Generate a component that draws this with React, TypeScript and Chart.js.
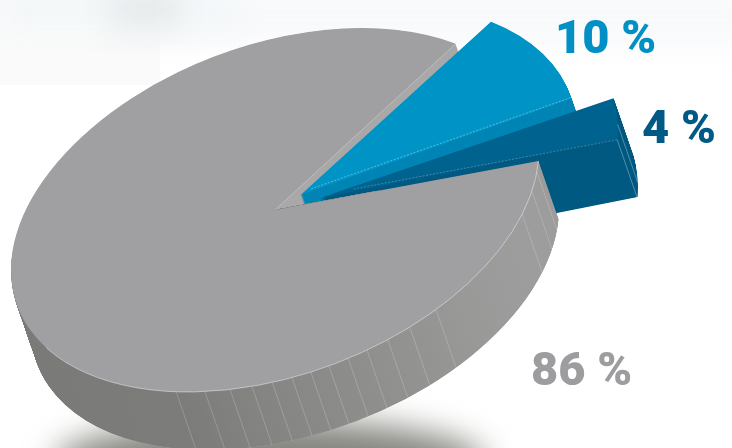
import React, { useEffect, useRef } from "react";
import { Chart, registerables } from "chart.js";

Chart.register(...registerables);

const shareLabels = ["86 %", "10 %", "4 %"];
const shareValues = [86, 10, 4];

// Rim positions, in degrees, of the thin seams on the side walls.
const greyWallSeams = [112, 105.4, 99.8, 95, 90.6, 86.3, 82.2, 78.2, 73.9, 69.6, 64.7, 59.3, 52.4, 20.6, 13.3, 7.2];
const darkWallSeams = [3.6, -1.5];

const topColors = ["#a09fa1", "#0093c5", "#00628f"];
const wallColors = ["#a9a9a9", "#0085b5", "#005a82"];
const labelColors = ["#9d9da0", "#0090c5", "#005a85"];
const labelPlaces = [
  [531, 385],
  [555, 53],
  [642, 143],
];

// Affine tilt of the disc: the pie is round in chart space and is laid over on the page.
const TILT = { ux: 264, uy: -60, vy: 171.8, cx: 275, cy: 210 };
const WALL = { dx: 20, dy: 58, steps: 116 };

type Ctx = CanvasRenderingContext2D;

const tiltFor = (arc: any) => {
  const R = arc.outerRadius;
  const a = TILT.ux / R;
  const b = TILT.uy / R;
  const d = TILT.vy / R;
  return { a, b, d, e: TILT.cx - a * arc.x, f: TILT.cy - b * arc.x - d * arc.y };
};

const applyTilt = (ctx: Ctx, arc: any) => {
  const t = tiltFor(arc);
  ctx.transform(t.a, t.b, 0, t.d, t.e, t.f);
};

// Same displacement ArcElement applies for its `offset` option.
const explodeOf = (arc: any) => {
  const o = (arc.options.offset || 0) / 4;
  const fix = 1 - Math.sin(Math.min(Math.PI, arc.circumference));
  const mid = (arc.startAngle + arc.endAngle) / 2;
  return { x: Math.cos(mid) * o * (1 + fix), y: Math.sin(mid) * o * (1 + fix) };
};

const pagePoint = (arc: any, angle: number, radius: number) => {
  const t = tiltFor(arc);
  const s = explodeOf(arc);
  const x = arc.x + s.x + Math.cos(angle) * radius;
  const y = arc.y + s.y + Math.sin(angle) * radius;
  return { x: t.a * x + t.e, y: t.b * x + t.d * y + t.f };
};

const drawArcWith = (ctx: Ctx, arc: any, fill: any) => {
  const saved = arc.options;
  arc.options = { ...saved, backgroundColor: fill };
  arc.draw(ctx);
  arc.options = saved;
};

const drawWall = (ctx: Ctx, arc: any, fill: any) => {
  for (let s = WALL.steps; s >= 1; s--) {
    const k = s / WALL.steps;
    ctx.save();
    ctx.translate(WALL.dx * k, WALL.dy * k);
    applyTilt(ctx, arc);
    drawArcWith(ctx, arc, fill);
    ctx.restore();
  }
};

const drawTop = (ctx: Ctx, arc: any, fill: any) => {
  ctx.save();
  applyTilt(ctx, arc);
  drawArcWith(ctx, arc, fill);
  ctx.restore();
};

const line = (ctx: Ctx, x0: number, y0: number, x1: number, y1: number, color: string, width = 0.8) => {
  ctx.beginPath();
  ctx.moveTo(x0, y0);
  ctx.lineTo(x1, y1);
  ctx.strokeStyle = color;
  ctx.lineWidth = width;
  ctx.stroke();
};

const seams = (ctx: Ctx, arc: any, degrees: number[], color: string) => {
  degrees.forEach((deg) => {
    const p = pagePoint(arc, (deg * Math.PI) / 180, arc.outerRadius);
    line(ctx, p.x, p.y, p.x + WALL.dx, p.y + WALL.dy, color, 0.7);
  });
};

const pieScene = {
  id: "pieScene",
  beforeDraw(chart: any) {
    const ctx: Ctx = chart.ctx;
    ctx.save();
    ctx.fillStyle = "#ffffff";
    ctx.fillRect(0, 0, 732, 448);

    // Pale haze along the top edge.
    ctx.fillStyle = "#fafafa";
    ctx.fillRect(0, 0, 160, 85);
    ctx.filter = "blur(14px)";
    ctx.fillStyle = "#f8f9fa";
    ctx.fillRect(120, -10, 640, 55);
    ctx.fillStyle = "#f3f7f9";
    ctx.fillRect(0, -10, 240, 38);
    ctx.fillStyle = "#e6e9ea";
    ctx.fillRect(110, -10, 70, 36);

    // Soft cast shadow under the disc.
    ctx.filter = "blur(16px)";
    ctx.fillStyle = "#85857f";
    ctx.beginPath();
    ctx.ellipse(270, 462, 215, 42, 0, 0, Math.PI * 2);
    ctx.fill();
    ctx.restore();
  },
  beforeDatasetsDraw(chart: any) {
    const ctx: Ctx = chart.ctx;
    const [grey, blue, dark] = chart.getDatasetMeta(0).data;
    const t = tiltFor(grey);

    // Rear cut wall of the large slice shows in the gap, behind the exploded slices.
    drawWall(ctx, grey, wallColors[0]);

    drawWall(ctx, blue, wallColors[1]);
    drawTop(ctx, blue, topColors[1]);
    const bApex = pagePoint(blue, blue.endAngle, 0);
    const bRim = pagePoint(blue, blue.endAngle, blue.outerRadius);
    ctx.save();
    ctx.setLineDash([2, 1.5]);
    line(ctx, bApex.x, bApex.y, bRim.x, bRim.y, "rgba(255,255,255,0.45)");
    ctx.restore();

    drawWall(ctx, dark, wallColors[2]);
    drawTop(ctx, dark, topColors[2]);
    const dApex = pagePoint(dark, dark.endAngle, 0);
    const dRim = pagePoint(dark, dark.endAngle, dark.outerRadius);
    ctx.save();
    ctx.setLineDash([2, 1.5]);
    line(ctx, dApex.x, dApex.y, dRim.x, dRim.y, "rgba(255,255,255,0.3)");
    ctx.restore();
    seams(ctx, dark, darkWallSeams, "rgba(255,255,255,0.45)");

    // Outer wall of the large slice, kept below its front cut line.
    const rim = pagePoint(grey, grey.startAngle, grey.outerRadius);
    const slope = (rim.y - TILT.cy) / (rim.x - TILT.cx);
    const atX = (x: number) => TILT.cy + slope * (x - TILT.cx);
    const toChart = (x: number, y: number) => {
      const cx = (x - t.e) / t.a;
      return { x: cx, y: (y - t.f - t.b * cx) / t.d };
    };
    const g0 = toChart(20, 400);
    const g1 = toChart(560, 400);
    const shade = ctx.createLinearGradient(g0.x, g0.y, g1.x, g1.y);
    shade.addColorStop(0, "#7a7b79");
    shade.addColorStop(0.29, "#7c7d7b");
    shade.addColorStop(0.52, "#8a8b89");
    shade.addColorStop(0.67, "#949593");
    shade.addColorStop(0.8, "#a0a0a0");
    shade.addColorStop(1, "#979797");
    ctx.save();
    ctx.beginPath();
    ctx.moveTo(0, atX(0));
    ctx.lineTo(732, atX(732));
    ctx.lineTo(732, 448);
    ctx.lineTo(0, 448);
    ctx.closePath();
    ctx.clip();
    drawWall(ctx, grey, shade);
    seams(ctx, grey, greyWallSeams, "rgba(255,255,255,0.28)");
    ctx.restore();

    drawTop(ctx, grey, topColors[0]);

    // Light rim along the front of the disc and on its cut line.
    ctx.save();
    applyTilt(ctx, grey);
    ctx.beginPath();
    ctx.arc(grey.x, grey.y, grey.outerRadius, grey.startAngle, (150 * Math.PI) / 180);
    ctx.restore();
    ctx.strokeStyle = "rgba(255,255,255,0.55)";
    ctx.lineWidth = 0.8;
    ctx.stroke();
    const gEnd = pagePoint(grey, grey.endAngle, grey.outerRadius);
    line(ctx, TILT.cx, TILT.cy, gEnd.x, gEnd.y, "rgba(255,255,255,0.35)");
    return false;
  },
  afterDraw(chart: any) {
    const ctx: Ctx = chart.ctx;
    ctx.save();
    ctx.font = "900 47px Roboto";
    ctx.textBaseline = "alphabetic";
    shareLabels.forEach((label, i) => {
      ctx.fillStyle = labelColors[i];
      ctx.fillText(label, labelPlaces[i][0], labelPlaces[i][1]);
    });
    ctx.restore();
  },
};

export default function App() {
  const ref = useRef<HTMLCanvasElement | null>(null);

  useEffect(() => {
    const chart = new Chart(ref.current as HTMLCanvasElement, {
      type: "pie",
      data: {
        labels: shareLabels,
        datasets: [
          {
            data: shareValues,
            backgroundColor: topColors,
            borderWidth: 0,
            offset: [0, 74, 114],
          },
        ],
      },
      options: {
        animation: false,
        responsive: false,
        devicePixelRatio: 1,
        rotation: 93.6,
        layout: { padding: 0 },
        plugins: { legend: { display: false }, tooltip: { enabled: false } },
      },
      plugins: [pieScene],
    } as any);
    return () => chart.destroy();
  }, []);

  return (
    <div style={{ position: "fixed", left: 0, top: 0, width: 732, height: 448, overflow: "hidden", background: "#fff" }}>
      <canvas ref={ref} width={732} height={448} style={{ display: "block" }} />
    </div>
  );
}
